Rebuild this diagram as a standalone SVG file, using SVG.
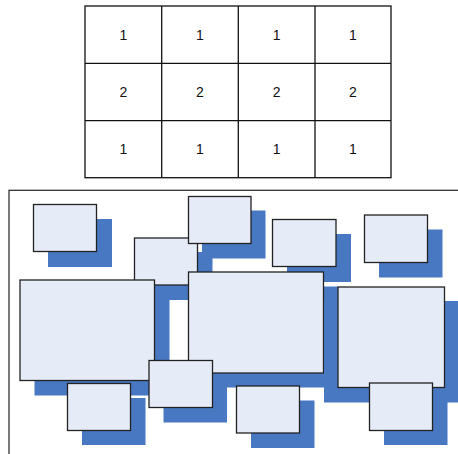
<svg xmlns="http://www.w3.org/2000/svg" width="458" height="454" viewBox="0 0 458 454">
<style>
.cell{fill:#fff;stroke:#111;stroke-width:1.3}
.t{font-family:"Liberation Sans",Arial,sans-serif;font-size:14px;fill:#111;text-anchor:middle}
.box{fill:#E6ECF7;stroke:#222;stroke-width:1.3}
.sh{fill:#4878C2}
.frame{fill:none;stroke:#333;stroke-width:1.3}
</style>
<rect width="458" height="454" fill="#fff"/>
<g id="table">
<rect class="cell" x="85" y="6" width="306" height="171.7"/>
<line class="cell" x1="161.7" y1="6" x2="161.7" y2="177.7"/>
<line class="cell" x1="238.3" y1="6" x2="238.3" y2="177.7"/>
<line class="cell" x1="315" y1="6" x2="315" y2="177.7"/>
<line class="cell" x1="85" y1="63.3" x2="391" y2="63.3"/>
<line class="cell" x1="85" y1="120.7" x2="391" y2="120.7"/>
<text class="t" x="123.3" y="39.7">1</text><text class="t" x="200" y="39.7">1</text><text class="t" x="276.7" y="39.7">1</text><text class="t" x="353" y="39.7">1</text>
<text class="t" x="123.3" y="97">2</text><text class="t" x="200" y="97">2</text><text class="t" x="276.7" y="97">2</text><text class="t" x="353" y="97">2</text>
<text class="t" x="123.3" y="154.2">1</text><text class="t" x="200" y="154.2">1</text><text class="t" x="276.7" y="154.2">1</text><text class="t" x="353" y="154.2">1</text>
</g>
<rect id="frame" class="frame" x="9" y="190.3" width="470" height="290"/>
<g id="boxA"><rect class="sh" x="48" y="219" width="64" height="48"/><rect class="box" x="33.5" y="204.5" width="63" height="47"/></g>
<g id="boxB"><rect class="sh" x="148.5" y="252" width="64" height="48"/><rect class="box" x="134.5" y="238" width="63" height="47"/></g>
<g id="boxC"><rect class="sh" x="202" y="210.5" width="63.5" height="48"/><rect class="box" x="188.5" y="196.5" width="62.5" height="47"/></g>
<g id="boxH"><rect class="sh" x="287" y="234" width="64" height="48"/><rect class="box" x="272.5" y="219.5" width="63.5" height="47"/></g>
<g id="boxI"><rect class="sh" x="379" y="229.5" width="63.5" height="48"/><rect class="box" x="364.5" y="215" width="63" height="47.5"/></g>
<g id="boxD"><rect class="sh" x="34.5" y="294.5" width="135" height="101"/><rect class="box" x="20" y="280" width="134.5" height="100.5"/></g>
<g id="boxE"><rect class="sh" x="202.5" y="286.5" width="135.5" height="101"/><rect class="box" x="188.5" y="272" width="135" height="101"/></g>
<g id="boxJ"><rect class="sh" x="324" y="301" width="136" height="101.5"/><rect class="box" x="338" y="287" width="106.5" height="100.5"/></g>
<g id="boxF"><rect class="sh" x="163.5" y="375" width="63.5" height="47.5"/><rect class="box" x="149" y="360.5" width="63.5" height="47"/></g>
<g id="boxG"><rect class="sh" x="82" y="398" width="63.5" height="47"/><rect class="box" x="67.5" y="383.5" width="63" height="47"/></g>
<g id="boxK"><rect class="sh" x="251" y="400.5" width="63.5" height="47.5"/><rect class="box" x="236.5" y="386" width="63" height="47"/></g>
<g id="boxL"><rect class="sh" x="384" y="398" width="63.5" height="47"/><rect class="box" x="369.5" y="383" width="63" height="47.5"/></g>
<g id="connectors"/>
</svg>
